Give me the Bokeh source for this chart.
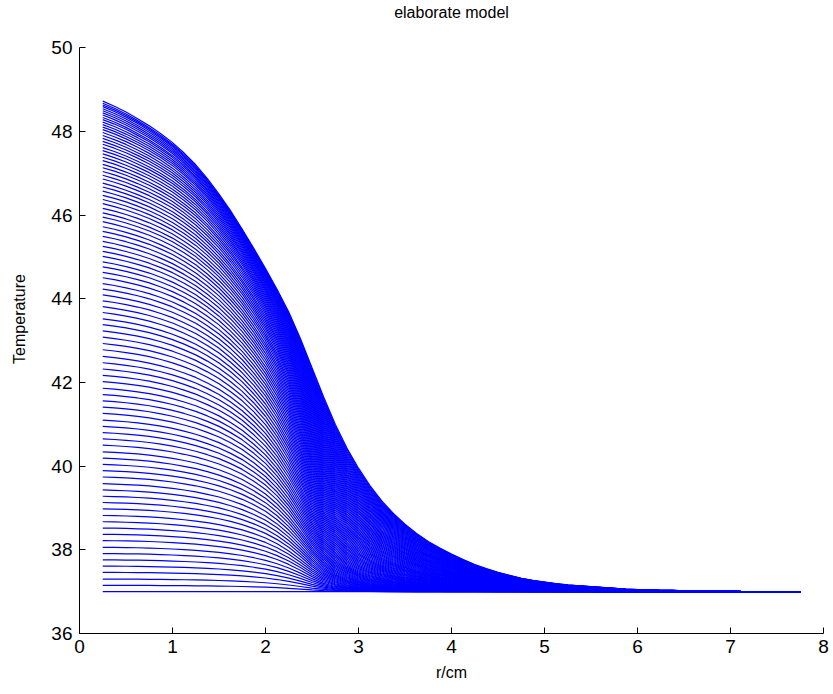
import numpy as np
from bokeh.plotting import figure
from bokeh.models import FixedTicker, Range1d, Label
from bokeh.embed import file_html
from bokeh.resources import INLINE

# ---------------- data ----------------
radius_cm = [0.25, 0.375, 0.5, 0.625, 0.75, 0.875, 1.0, 1.125, 1.25, 1.375,
             1.5, 1.625, 1.75, 1.875, 2.0, 2.125, 2.25, 2.375, 2.5, 2.625,
             2.75, 2.875, 3.0, 3.125, 3.25, 3.375, 3.5, 3.625, 3.75, 3.875,
             4.0, 4.125, 4.25, 4.375, 4.5, 4.625, 4.75, 4.875, 5.0, 5.125,
             5.25, 5.375, 5.5, 5.625, 5.75, 5.875, 6.0, 6.125, 6.25, 6.375,
             6.5, 6.625, 6.75, 6.875, 7.0, 7.125, 7.25, 7.375, 7.5, 7.625, 7.75]

# last (top) temperature profile
final_profile = [48.72, 48.60, 48.46, 48.30, 48.13, 47.94, 47.73, 47.48, 47.20, 46.87,
                 46.50, 46.10, 45.66, 45.20, 44.72, 44.22, 43.68, 43.05, 42.35, 41.65,
                 41.00, 40.43, 39.95, 39.53, 39.17, 38.87, 38.61, 38.39, 38.20, 38.04,
                 37.90, 37.77, 37.65, 37.55, 37.46, 37.39, 37.32, 37.27, 37.23, 37.19,
                 37.16, 37.14, 37.12, 37.10, 37.08, 37.06, 37.05, 37.04, 37.03, 37.03,
                 37.02, 37.02, 37.01, 37.01, 37.01, 37.00, 37.00, 37.00, 37.00, 37.00, 37.00]

# relative shape of the earliest (lowest) profiles, 1 = centre value
early_shape = [1.000, 0.998, 0.995, 0.991, 0.985, 0.976, 0.965, 0.951, 0.935, 0.914,
               0.890, 0.858, 0.820, 0.770, 0.710, 0.630, 0.530, 0.410, 0.280, 0.170,
               0.100, 0.055, 0.030, 0.018, 0.010, 0.005, 0.002, 0.000, 0.000, 0.000,
               0.000, 0.000, 0.000, 0.000, 0.000, 0.000, 0.000, 0.000, 0.000, 0.000,
               0.000, 0.000, 0.000, 0.000, 0.000, 0.000, 0.000, 0.000, 0.000, 0.000,
               0.000, 0.000, 0.000, 0.000, 0.000, 0.000, 0.000, 0.000, 0.000, 0.000, 0.000]

# temperature at r = 0.25 cm of every plotted profile (bottom to top)
center_temps = [
    37.00, 37.15, 37.30, 37.46, 37.61, 37.76, 37.91, 38.06, 38.22, 38.37,
    38.52, 38.67, 38.82, 38.98, 39.13, 39.28, 39.43, 39.58, 39.74, 39.89,
    40.04, 40.19, 40.34, 40.50, 40.65, 40.80, 40.95, 41.10, 41.26, 41.41,
    41.56, 41.71, 41.86, 42.02, 42.17, 42.32, 42.47, 42.62, 42.78, 42.93,
    43.08, 43.23, 43.38, 43.52, 43.67, 43.81, 43.95, 44.09, 44.23, 44.36,
    44.50, 44.63, 44.76, 44.88, 45.01, 45.13, 45.25, 45.37, 45.49, 45.61,
    45.72, 45.84, 45.95, 46.05, 46.16, 46.27, 46.37, 46.47, 46.57, 46.67,
    46.76, 46.86, 46.95, 47.04, 47.13, 47.21, 47.30, 47.38, 47.46, 47.54,
    47.61, 47.69, 47.76, 47.83, 47.90, 47.97, 48.04, 48.10, 48.16, 48.22,
    48.28, 48.33, 48.39, 48.44, 48.49, 48.54, 48.59, 48.63, 48.67, 48.72]

ambient_temp = 37.0
x_ticks = [0, 1, 2, 3, 4, 5, 6, 7, 8]
y_ticks = [36, 38, 40, 42, 44, 46, 48, 50]
title_text = "elaborate model"
x_label = "r/cm"
y_label = "Temperature"

# ---------------- build line table ----------------
S = (np.array(final_profile) - ambient_temp) / (final_profile[0] - ambient_temp)
E = np.array(early_shape)
n = len(center_temps)
xs, ys = [], []
for k, c in enumerate(center_temps):
    lam = k / (n - 1)
    shape = (1 - lam) * E + lam * S
    xs.append(radius_cm)
    ys.append(list(ambient_temp + (c - ambient_temp) * shape))

FONT = "'Liberation Sans', Arial, sans-serif"

# frame reaches above the 50 mark so the title can sit inside it; the y axis
# itself is bounded to 36..50 as in the original
p = figure(width=833, height=694, output_backend="svg", toolbar_location=None,
           x_range=Range1d(0, 8), y_range=Range1d(36, 51.03),
           min_border_left=79, min_border_right=10, min_border_top=4, min_border_bottom=61,
           background_fill_color="white", border_fill_color="white")
p.outline_line_color = None
p.grid.visible = False
p.title.visible = False

p.multi_line(xs=xs, ys=ys, line_color="#0000ff", line_width=1.2)

p.add_layout(Label(x=4.0, y=50.84, text=title_text,
                   text_align="center", text_baseline="middle",
                   text_font=FONT, text_font_size="16px", text_color="black"))

for ax in (p.xaxis[0], p.yaxis[0]):
    ax.major_tick_in = 6
    ax.major_tick_out = 0
    ax.minor_tick_in = 0
    ax.minor_tick_out = 0
    ax.axis_line_color = "black"
    ax.major_tick_line_color = "black"
    ax.major_label_text_font = FONT
    ax.major_label_text_font_size = "19px"
    ax.major_label_text_color = "black"
    ax.axis_label_text_font = FONT
    ax.axis_label_text_font_size = "16px"
    ax.axis_label_text_font_style = "normal"
    ax.axis_label_text_color = "black"

p.yaxis.bounds = (36, 50)
p.xaxis.ticker = FixedTicker(ticks=x_ticks)
p.yaxis.ticker = FixedTicker(ticks=y_ticks)
p.xaxis.axis_label = x_label
p.yaxis.axis_label = y_label
p.xaxis.major_label_standoff = 6
p.yaxis.major_label_standoff = 7
p.xaxis.axis_label_standoff = 8
p.yaxis.axis_label_standoff = 20

open("out.html", "w").write(file_html(p, INLINE))
